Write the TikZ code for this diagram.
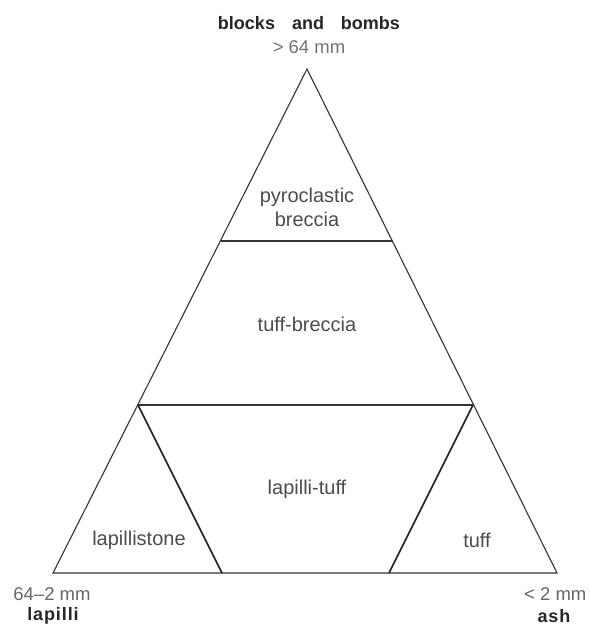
\documentclass[tikz,border=0pt]{standalone}
\usepackage{fontspec}
\setmainfont{Liberation Sans}
\begin{document}
\begin{tikzpicture}[x=1pt,y=-1pt,
  lbl/.style={text=black!70, font=\fontsize{20}{24}\selectfont, inner sep=0pt, align=center},
  sizelbl/.style={text=black!60, font=\fontsize{18.5}{22}\selectfont, inner sep=0pt},
  namelbl/.style={text=black!85, font=\fontsize{18}{22}\selectfont\bfseries\addfontfeature{LetterSpace=5}, inner sep=0pt},
  outer/.style={draw=black!80, line width=1.1pt, line join=miter},
  inner/.style={draw=black!85, line width=1.7pt}]
\useasboundingbox (0,0) rectangle (590,625);
% corners
\coordinate (A) at (307,69);
\coordinate (L) at (53,573);
\coordinate (R) at (557,573);
\coordinate (bl) at (221,241);
\coordinate (br) at (393,241);
\coordinate (ml) at (138,405);
\coordinate (mr) at (473,405);
\coordinate (il) at (222,573);
\coordinate (ir) at (389,573);
% outline
\draw[outer] (A) -- (L) -- (R) -- cycle;
\draw[outer] (bl) -- (br);
\draw[outer] (ml) -- (mr);
\draw[inner] (ml) -- (il);
\draw[inner] (mr) -- (ir);
% labels
\node[namelbl, font=\fontsize{18}{22}\selectfont\bfseries] (top) at (309,23) {blocks\hspace{12pt} and\hspace{12pt} bombs};
\node[sizelbl, text=black!55] (topsz) at (309,47) {> 64 mm};
\node[lbl] (pb) at (307,207) {pyroclastic\\breccia};
\node[lbl] (tb) at (307,324) {tuff-breccia};
\node[lbl] (lt) at (307,489) {lapilli-tuff};
\node[lbl] (ls) at (139,540) {lapillistone};
\node[lbl] (tf) at (477,540) {tuff};
\node[sizelbl] (lsz) at (52,594) {64--2 mm};
\node[namelbl] (lname) at (53,616) {lapilli};
\node[sizelbl, anchor=west] (rsz) at (524,594) {< 2 mm};
\node[namelbl] (rname) at (554,616) {ash};
\end{tikzpicture}
\end{document}
